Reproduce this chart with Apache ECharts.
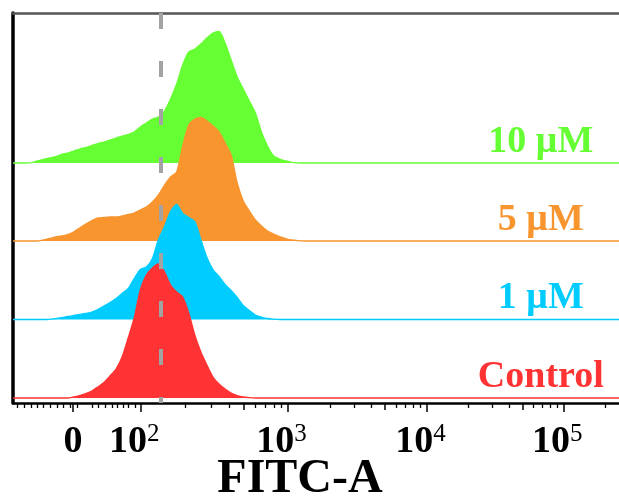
<!DOCTYPE html>
<html>
<head>
<meta charset="utf-8">
<script src="https://cdn.jsdelivr.net/npm/echarts@6/dist/echarts.min.js"></script>
<style>
  html, body { margin: 0; padding: 0; background: #fff; }
  #chart { width: 619px; height: 499px; }
</style>
</head>
<body>
<div id="chart"></div>
<script>
// FITC-A fluorescence histograms, offset per sample, on a biexponential
// display scale expressed in display channels (0–1000).

// Bin grid (display channels); the last bin closes the baseline at the right edge
const CHANNELS = [...Array.from({ length: 51 }, (_, i) => i * 10), 1000];

// Event counts per bin
const COUNTS_10UM = [
  0, 0, 0, 0.3, 2, 3.5, 5, 6.5, 8.5, 10,
  12, 14, 15.5, 17.5, 19.5, 21, 23, 25, 27, 28.5,
  31, 36, 40, 44, 46, 52, 64, 79, 98, 111,
  114, 119, 125, 130, 131.5, 120, 103, 86, 74, 62,
  50, 31, 17, 7, 4, 2, 0.7, 0.2, 0, 0,
  0, 0
];
const COUNTS_5UM = [
  0, 0, 0, 0, 0, 1, 2.5, 4, 5, 6.5,
  9, 13, 17, 20.5, 23, 23.5, 24, 24, 25, 26.5,
  28, 31, 34, 39, 46, 56, 64, 69, 95, 116,
  122, 123.5, 120, 115, 109, 98, 86, 58, 40, 30,
  21, 15, 10, 7, 4.5, 2.5, 1, 0.3, 0, 0,
  0, 0
];
const COUNTS_1UM = [
  0, 0, 0, 0, 0, 0, 0.2, 0.8, 1.8, 3,
  4, 5, 6, 7.5, 10, 13.5, 17, 21, 26, 31,
  41, 50, 52.5, 61, 80, 93, 108, 115, 106, 102,
  98, 80, 62, 50, 43, 35, 29, 22, 14, 9,
  4.5, 2.5, 1, 0.4, 0, 0, 0, 0, 0, 0,
  0, 0
];
const COUNTS_CONTROL = [
  0, 0, 0, 0, 0, 0, 0, 0, 0, 0,
  1, 2.5, 4.5, 7, 11, 15.5, 22, 29, 41, 60,
  80, 108, 123, 130, 134, 126, 113, 106, 101, 85,
  63, 46, 33, 21, 14, 9, 5, 2.5, 1, 0.3,
  0, 0, 0, 0, 0, 0, 0, 0, 0, 0,
  0, 0
];

// Sample names, colours and vertical offsets (back to front)
const SAMPLE_NAMES = ['10 μM', '5 μM', '1 μM', 'Control'];
const SAMPLE_COLORS = ['#66FF33', '#F8952F', '#00CCFF', '#FF3333'];
const SAMPLE_COUNTS = [COUNTS_10UM, COUNTS_5UM, COUNTS_1UM, COUNTS_CONTROL];
const LANE_BASE = [240, 162, 83.5, 5];
const Y_MAX = 390;

// Axis scale: display channel of 0 and of each decade 10^2 … 10^5
const ZERO_CH = 99;
const DECADE_CH = [211, 454, 683, 909];
const DECADE_EXP = ['2', '3', '4', '5'];
// Linear-region minor ticks around zero
const LINEAR_MINOR_CH = [7, 18, 30, 40, 50, 61, 73, 83, 94, 106, 130, 140, 152, 163, 172, 182, 190, 201];

// Gate marker position and label anchor
const GATE_CH = 244;
const LABEL_CH = 871;

const FONT = "'Liberation Serif', 'Times New Roman', serif";

const MAJOR_CH = [ZERO_CH, ...DECADE_CH];
const TICK_BASE = ['0', '10', '10', '10', '10'];
const TICK_EXP = ['', ...DECADE_EXP];

const MINOR_CH = [...LINEAR_MINOR_CH];
const MID_CH = [];
DECADE_CH.forEach((start, d) => {
  const end = d + 1 < DECADE_CH.length ? DECADE_CH[d + 1] : start + 226;
  for (let k = 2; k <= 9; k++) {
    const c = start + Math.log10(k) * (end - start);
    if (c > 1000) continue;
    (k === 5 ? MID_CH : MINOR_CH).push(c);
  }
});

// Tick label for a major tick value; powers carry a trailing gap so the
// label sits slightly left of its tick
function tickLabel(v) {
  let idx = 0;
  MAJOR_CH.forEach((c, i) => { if (Math.abs(c - v) < Math.abs(MAJOR_CH[idx] - v)) idx = i; });
  return TICK_EXP[idx]
    ? `{b|${TICK_BASE[idx]}}{s|${TICK_EXP[idx]}}{g| }`
    : `{b|${TICK_BASE[idx]}}`;
}

const series = SAMPLE_NAMES.map((name, s) => ({
  name,
  type: 'line',
  xAxisIndex: 0,
  data: CHANNELS.map((c, i) => [c, LANE_BASE[s] + SAMPLE_COUNTS[s][i]]),
  showSymbol: false,
  smooth: 0.25,
  silent: true,
  lineStyle: { color: SAMPLE_COLORS[s], width: 1.3 },
  areaStyle: { color: SAMPLE_COLORS[s], opacity: 1, origin: LANE_BASE[s] },
  markPoint: {
    symbol: 'rect',
    symbolSize: 0,
    silent: true,
    data: [{ coord: [LABEL_CH, LANE_BASE[s] + 21] }],
    label: {
      show: true,
      position: 'inside',
      formatter: name,
      color: SAMPLE_COLORS[s],
      fontFamily: FONT,
      fontWeight: 'bold',
      fontSize: 38
    }
  }
}));

series.push({
  type: 'line',
  xAxisIndex: 0,
  data: [],
  z: 10,
  silent: true,
  markLine: {
    symbol: 'none',
    silent: true,
    label: { show: false },
    lineStyle: { color: '#A3A3A3', width: 4, type: [16, 32] },
    data: [[{ coord: [GATE_CH, Y_MAX] }, { coord: [GATE_CH, 0] }]]
  }
});

const baseX = { type: 'value', min: 0, max: 1000, splitLine: { show: false } };

const option = {
  animation: false,
  backgroundColor: '#fff',
  grid: { left: 13, right: 0, top: 13, bottom: 96, containLabel: false, outerBoundsMode: 'none' },
  xAxis: [
    {
      ...baseX,
      position: 'bottom',
      name: 'FITC-A',
      nameLocation: 'middle',
      nameMoveOverlap: false,
      nameGap: 53,
      nameTextStyle: {
        fontFamily: FONT, fontWeight: 'bold', fontSize: 48, color: '#000',
        padding: [0, 32, 0, 0]
      },
      axisLine: { show: true, lineStyle: { color: '#000', width: 2.5 } },
      axisTick: { show: true, customValues: MAJOR_CH, length: 9, lineStyle: { color: '#000', width: 1.5 } },
      axisLabel: {
        show: true,
        customValues: MAJOR_CH,
        margin: 19,
        formatter: tickLabel,
        rich: {
          b: { fontFamily: FONT, fontWeight: 'bold', fontSize: 38, color: '#000', lineHeight: 40 },
          s: { fontFamily: FONT, fontSize: 25, color: '#000', verticalAlign: 'top', lineHeight: 20 },
          g: { fontSize: 10, width: 13, lineHeight: 20 }
        }
      }
    },
    {
      ...baseX,
      position: 'bottom',
      axisLine: { show: false },
      axisTick: { show: true, customValues: MINOR_CH, length: 5, lineStyle: { color: '#000', width: 1.3 } },
      axisLabel: { show: false }
    },
    {
      ...baseX,
      position: 'bottom',
      axisLine: { show: false },
      axisTick: { show: true, customValues: MID_CH, length: 7, lineStyle: { color: '#000', width: 1.5 } },
      axisLabel: { show: false }
    },
    {
      ...baseX,
      position: 'top',
      axisLine: { show: true, lineStyle: { color: '#555', width: 2.5 } },
      axisTick: { show: false },
      axisLabel: { show: false }
    }
  ],
  yAxis: {
    type: 'value',
    min: 0,
    max: Y_MAX,
    axisLine: { show: true, lineStyle: { color: '#000', width: 3.5 } },
    axisTick: { show: false },
    axisLabel: { show: false },
    splitLine: { show: false }
  },
  series
};

const chart = echarts.init(document.getElementById('chart'), null, { renderer: 'canvas' });
chart.setOption(option);
</script>
</body>
</html>
